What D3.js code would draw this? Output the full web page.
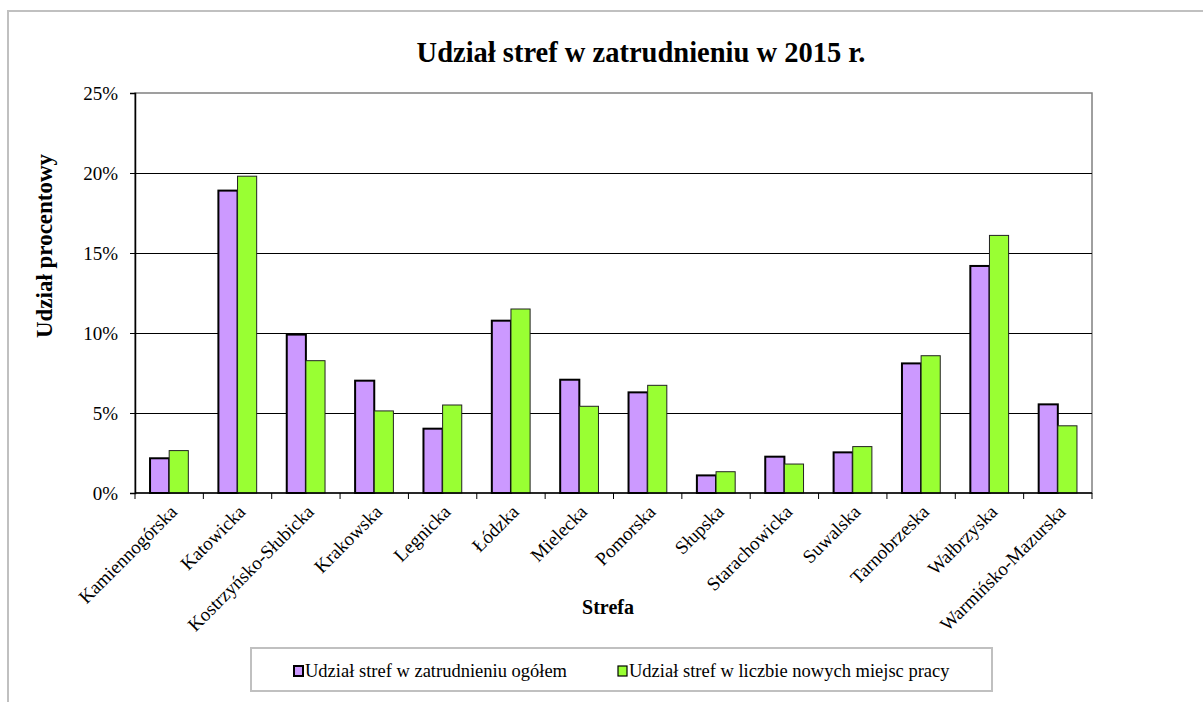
<!DOCTYPE html>
<html>
<head>
<meta charset="utf-8">
<script src="https://cdn.jsdelivr.net/npm/d3@7"></script>
<style>
  body { margin: 0; background: #fff; }
  svg { display: block; }
  text { font-family: "Liberation Serif", "Times New Roman", serif; fill: #000; }
</style>
</head>
<body>
<div id="chart"></div>
<script>
// data
const categories = ["Kamiennogórska", "Katowicka", "Kostrzyńsko-Słubicka", "Krakowska", "Legnicka", "Łódzka", "Mielecka",
  "Pomorska", "Słupska", "Starachowicka", "Suwalska", "Tarnobrzeska", "Wałbrzyska", "Warmińsko-Mazurska"];
const seriesNames = ["Udział stref w zatrudnieniu ogółem", "Udział stref w liczbie nowych miejsc pracy"];
const totalShare = [2.17, 18.9, 9.9, 7.02, 4.02, 10.77, 7.08, 6.29, 1.1, 2.27, 2.54, 8.1, 14.19, 5.54];
const newJobsShare = [2.65, 19.8, 8.27, 5.13, 5.5, 11.5, 5.42, 6.73, 1.33, 1.81, 2.9, 8.58, 16.1, 4.2];
const yTicks = [0, 5, 10, 15, 20, 25];

const W = 1203, H = 702;
const margin = {top: 93, right: 111, bottom: 209, left: 135};
const width = W - margin.left - margin.right,
      height = H - margin.top - margin.bottom;

const svg = d3.select("#chart").append("svg")
  .attr("width", W).attr("height", H);

// outer chart border
svg.append("rect")
  .attr("x", 8).attr("y", 11)
  .attr("width", W).attr("height", H)
  .attr("fill", "none").attr("stroke", "#c0c0c0").attr("stroke-width", 2);

svg.append("text")
  .attr("x", 641).attr("y", 62)
  .attr("text-anchor", "middle")
  .attr("font-size", "28.5px").attr("font-weight", "bold")
  .text("Udział stref  w zatrudnieniu w 2015 r.");

const g = svg.append("g")
  .attr("transform", "translate(" + margin.left + "," + margin.top + ")");

const x = d3.scaleBand().domain(categories).range([0, width]).padding(0);
const y = d3.scaleLinear().domain([0, 25]).range([height, 0]);

// plot area frame
g.append("rect")
  .attr("width", width).attr("height", height)
  .attr("fill", "#fff").attr("stroke", "#808080").attr("stroke-width", 1.5);

// gridlines
g.selectAll(".grid").data(yTicks.slice(1, -1)).enter().append("line")
  .attr("x1", 0).attr("x2", width)
  .attr("y1", d => Math.round(y(d)) + 0.5).attr("y2", d => Math.round(y(d)) + 0.5)
  .attr("stroke", "#000").attr("stroke-width", 1);

// bars
const barW = x.bandwidth() * 0.28;
const data = categories.map((c, i) => ({c: c, a: totalShare[i], b: newJobsShare[i]}));

g.selectAll(".barA").data(data).enter().append("rect")
  .attr("x", d => x(d.c) + x.bandwidth() / 2 - barW)
  .attr("y", d => y(d.a))
  .attr("width", barW)
  .attr("height", d => height - y(d.a))
  .attr("fill", "#cc99ff").attr("stroke", "#000").attr("stroke-width", 2);

g.selectAll(".barB").data(data).enter().append("rect")
  .attr("x", d => x(d.c) + x.bandwidth() / 2)
  .attr("y", d => y(d.b))
  .attr("width", barW)
  .attr("height", d => height - y(d.b))
  .attr("fill", "#99ff33").attr("stroke", "#222").attr("stroke-width", 1);

// y axis
const yAxis = g.append("g")
  .call(d3.axisLeft(y).tickValues(yTicks).tickSize(5).tickPadding(12).tickFormat(d => d + "%"));
yAxis.select(".domain").attr("stroke", "#000").attr("stroke-width", 1.5);
yAxis.selectAll("text").attr("font-size", "19px").attr("font-family", "Liberation Serif");

// x axis: ticks at category boundaries
const xAxis = g.append("g").attr("transform", "translate(0," + height + ")");
xAxis.append("line").attr("x1", 0).attr("x2", width).attr("stroke", "#000").attr("stroke-width", 1.5);
xAxis.selectAll(".tk").data(d3.range(categories.length + 1)).enter().append("line")
  .attr("x1", i => i * x.step()).attr("x2", i => i * x.step())
  .attr("y1", 0).attr("y2", 6).attr("stroke", "#000");
xAxis.selectAll(".lbl").data(categories).enter().append("text")
  .attr("transform", d => "translate(" + (x(d) + x.bandwidth() / 2 + 9) + ",20) rotate(-45)")
  .attr("text-anchor", "end")
  .attr("font-size", "19px")
  .text(d => d);

svg.append("text")
  .attr("x", 608).attr("y", 614)
  .attr("text-anchor", "middle")
  .attr("font-size", "20px").attr("font-weight", "bold")
  .text("Strefa");

svg.append("text")
  .attr("transform", "translate(52,246) rotate(-90)")
  .attr("text-anchor", "middle")
  .attr("font-size", "23px").attr("font-weight", "bold")
  .text("Udział  procentowy");

// legend
const legend = svg.append("g");
legend.append("rect")
  .attr("x", 251).attr("y", 648).attr("width", 741).attr("height", 43)
  .attr("fill", "#fff").attr("stroke", "#c0c0c0").attr("stroke-width", 2);
const legendX = [294, 618];
const legendFill = ["#cc99ff", "#99ff33"];
seriesNames.forEach((s, i) => {
  legend.append("rect")
    .attr("x", legendX[i]).attr("y", 666).attr("width", 9).attr("height", 10)
    .attr("fill", legendFill[i]).attr("stroke", "#000").attr("stroke-width", i === 0 ? 2 : 1.2);
  legend.append("text")
    .attr("x", legendX[i] + 11).attr("y", 677)
    .attr("font-size", "18.5px")
    .text(s);
});
</script>
</body>
</html>
